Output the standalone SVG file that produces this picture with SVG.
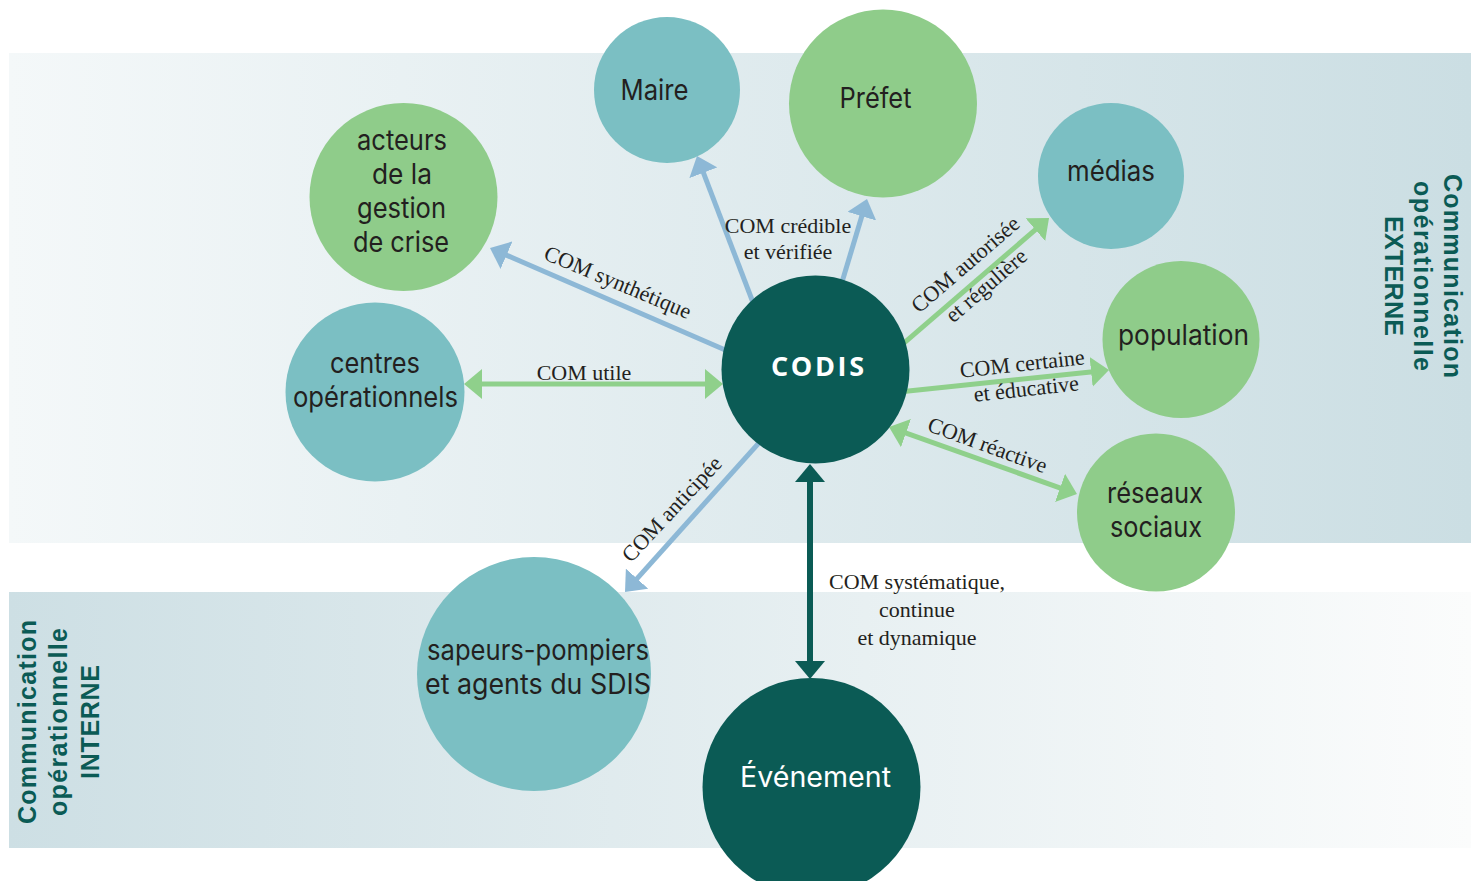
<svg xmlns="http://www.w3.org/2000/svg" width="1480" height="881" viewBox="0 0 1480 881">
<defs>
<linearGradient id="gTop" x1="0" y1="0" x2="1" y2="0">
<stop offset="0" stop-color="#f4f8f9"/><stop offset="1" stop-color="#cbdee3"/>
</linearGradient>
<linearGradient id="gBot" x1="0" y1="0" x2="1" y2="0">
<stop offset="0" stop-color="#cddfe4"/><stop offset="1" stop-color="#fbfcfc"/>
</linearGradient>
<marker id="aBlue" markerUnits="userSpaceOnUse" viewBox="0 0 18 30" markerWidth="18" markerHeight="30" refX="2" refY="15" orient="auto-start-reverse"><path d="M0,0 L18,15 L0,30 z" fill="#8db8d6"/></marker>
<marker id="aGreen" markerUnits="userSpaceOnUse" viewBox="0 0 18 30" markerWidth="18" markerHeight="30" refX="2" refY="15" orient="auto-start-reverse"><path d="M0,0 L18,15 L0,30 z" fill="#8fd08b"/></marker>
<marker id="aDark" markerUnits="userSpaceOnUse" viewBox="0 0 18 30" markerWidth="18" markerHeight="30" refX="2" refY="15" orient="auto-start-reverse"><path d="M0,0 L18,15 L0,30 z" fill="#0b5b55"/></marker>
</defs>
<style>
.blue{stroke:#8db8d6;stroke-width:5;fill:none;marker-end:url(#aBlue)}
.green{stroke:#8fd08b;stroke-width:5;fill:none;marker-end:url(#aGreen)}
.green2{stroke:#8fd08b;stroke-width:5;fill:none;marker-start:url(#aGreen);marker-end:url(#aGreen)}
.dark2{stroke:#0b5b55;stroke-width:6;fill:none;marker-start:url(#aDark);marker-end:url(#aDark)}
.teal{fill:#7bbfc3}
.lgreen{fill:#8fcc8a}
.dk{fill:#0b5b55}
.nt{font-family:Inter,"Open Sans",sans-serif;font-size:28px;fill:#231f20;text-anchor:middle}
.wt{font-family:Inter,"Open Sans",sans-serif;font-size:28px;fill:#ffffff;text-anchor:middle}
.lb{font-family:"Liberation Serif","Times New Roman",serif;font-size:22px;fill:#231f20;text-anchor:middle}
.side{font-family:"Liberation Sans",Arial,sans-serif;font-size:25px;font-weight:bold;fill:#0b5b55;text-anchor:middle}
</style>
<rect x="9" y="53" width="1462" height="490" fill="url(#gTop)"/>
<rect x="9" y="592" width="1462" height="256" fill="url(#gBot)"/>
<g id="label-externe">
<text class="side" transform="translate(1444,276) rotate(90)" textLength="204" lengthAdjust="spacing">Communication</text>
<text class="side" transform="translate(1414,276) rotate(90)" textLength="190" lengthAdjust="spacing">opérationnelle</text>
<text class="side" transform="translate(1385,276) rotate(90)" textLength="120" lengthAdjust="spacing">EXTERNE</text>
</g>
<g id="label-interne">
<text class="side" transform="translate(36,722) rotate(-90)" textLength="204" lengthAdjust="spacing">Communication</text>
<text class="side" transform="translate(67,722) rotate(-90)" textLength="188" lengthAdjust="spacing">opérationnelle</text>
<text class="side" transform="translate(99,722) rotate(-90)" textLength="114" lengthAdjust="spacing">INTERNE</text>
</g>
<g id="connectors">
<line class="blue" x1="736.8" y1="355" x2="504.7" y2="254.4"/>
<line class="blue" x1="757.4" y1="314" x2="702.7" y2="170.9"/>
<line class="blue" x1="837.7" y1="296.4" x2="862.4" y2="214.3"/>
<line class="green" x1="892.6" y1="352.8" x2="1036.9" y2="228.4"/>
<line class="green2" x1="480" y1="384" x2="707" y2="384"/>
<line class="green" x1="894.1" y1="392.6" x2="1093.1" y2="371.7"/>
<line class="green2" x1="904.1" y1="432.4" x2="1061.9" y2="488.6"/>
<line class="blue" x1="767" y1="433.8" x2="635.7" y2="580.1"/>
<line class="dark2" x1="810" y1="480" x2="810" y2="663"/>
<text class="lb" transform="translate(615,289) rotate(22.7)">COM synthétique</text>
<text class="lb" x="788" y="233">COM crédible</text>
<text class="lb" x="788" y="259">et vérifiée</text>
<text class="lb" transform="translate(970,270) rotate(-40.8)">COM autorisée</text>
<text class="lb" transform="translate(991,291) rotate(-40.8)">et régulière</text>
<text class="lb" x="584" y="380">COM utile</text>
<text class="lb" transform="translate(1023,371) rotate(-6.3)">COM certaine</text>
<text class="lb" transform="translate(1027,396) rotate(-6.3)">et éducative</text>
<text class="lb" transform="translate(985,452) rotate(20)">COM réactive</text>
<text class="lb" transform="translate(677,514) rotate(-47)">COM anticipée</text>
<text class="lb" x="917" y="589">COM systématique,</text>
<text class="lb" x="917" y="617">continue</text>
<text class="lb" x="917" y="645">et dynamique</text>
</g>
<g id="maire"><circle class="teal" cx="667" cy="90" r="73"/><text class="nt" x="654.5" y="100" textLength="68" lengthAdjust="spacingAndGlyphs">Maire</text></g>
<g id="prefet"><circle class="lgreen" cx="883" cy="103.5" r="94"/><text class="nt" x="875.5" y="108" textLength="72" lengthAdjust="spacingAndGlyphs">Préfet</text></g>
<g id="medias"><circle class="teal" cx="1111" cy="176" r="73"/><text class="nt" x="1111" y="181" textLength="88" lengthAdjust="spacingAndGlyphs">médias</text></g>
<g id="population"><circle class="lgreen" cx="1181" cy="339.5" r="78.5"/><text class="nt" x="1183.5" y="345" textLength="131" lengthAdjust="spacingAndGlyphs">population</text></g>
<g id="reseaux"><circle class="lgreen" cx="1156" cy="512.5" r="79"/><text class="nt" x="1155" y="503" textLength="96" lengthAdjust="spacingAndGlyphs">réseaux</text><text class="nt" x="1156" y="537" textLength="92" lengthAdjust="spacingAndGlyphs">sociaux</text></g>
<g id="acteurs"><circle class="lgreen" cx="403.5" cy="197" r="94"/><text class="nt" x="402" y="150" textLength="90" lengthAdjust="spacingAndGlyphs">acteurs</text><text class="nt" x="402" y="184" textLength="60" lengthAdjust="spacingAndGlyphs">de la</text><text class="nt" x="401.5" y="218" textLength="89" lengthAdjust="spacingAndGlyphs">gestion</text><text class="nt" x="401" y="252" textLength="96" lengthAdjust="spacingAndGlyphs">de crise</text></g>
<g id="centres"><circle class="teal" cx="375" cy="392" r="89.5"/><text class="nt" x="375" y="373" textLength="90" lengthAdjust="spacingAndGlyphs">centres</text><text class="nt" x="375.5" y="407" textLength="165" lengthAdjust="spacingAndGlyphs">opérationnels</text></g>
<g id="codis"><circle class="dk" cx="815.5" cy="369.5" r="94"/><text x="817.5" y="376" font-family="'Open Sans','Noto Sans',sans-serif" font-size="27" font-weight="bold" fill="#ffffff" text-anchor="middle" textLength="93" lengthAdjust="spacing">CODIS</text></g>
<g id="sapeurs"><circle class="teal" cx="534" cy="674" r="117"/><text class="nt" x="538" y="660" textLength="222" lengthAdjust="spacingAndGlyphs">sapeurs-pompiers</text><text class="nt" x="538" y="694" textLength="226" lengthAdjust="spacingAndGlyphs">et agents du SDIS</text></g>
<g id="evenement"><circle class="dk" cx="811.5" cy="787" r="109"/><text class="wt" x="815.5" y="787" textLength="151" lengthAdjust="spacingAndGlyphs">Événement</text></g>
</svg>
